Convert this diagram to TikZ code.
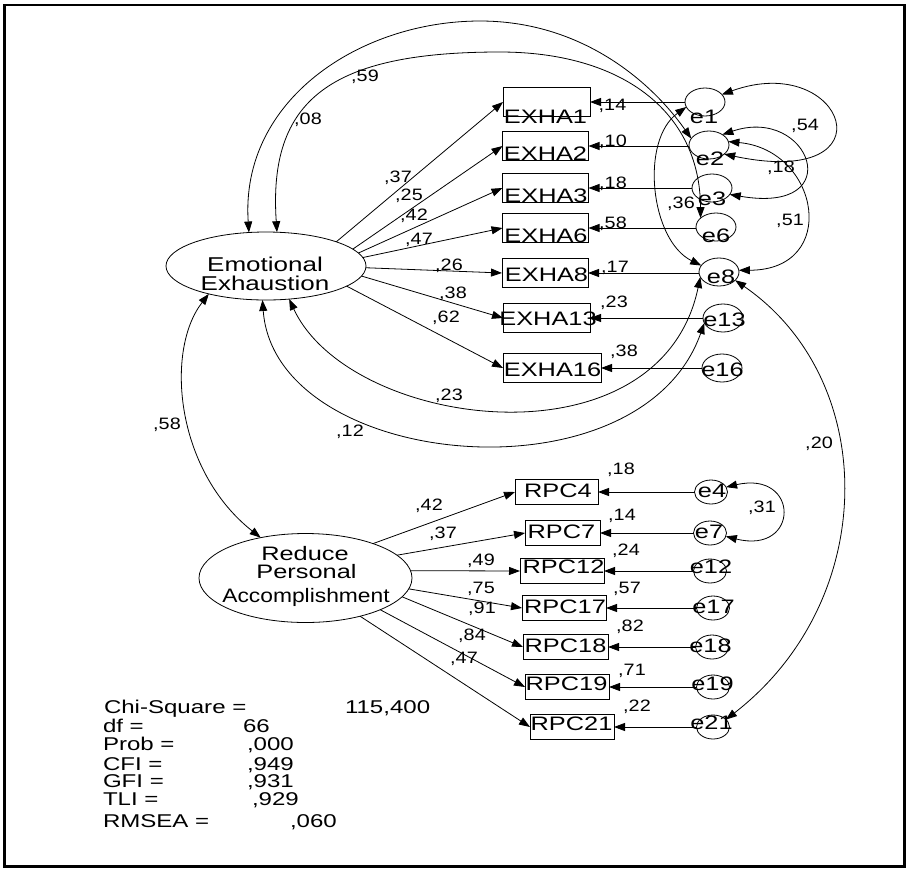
\documentclass[tikz,border=0pt]{standalone}
\usepackage{fontspec}
\setmainfont{Liberation Sans}
\newfontfamily\amosfont[FakeStretch=1.3]{Liberation Sans}
\newfontfamily\amosnarrowfont[FakeStretch=1.17]{Liberation Sans}
\newfontfamily\amoslabelfont[FakeStretch=1.2]{Liberation Sans}
\usetikzlibrary{arrows.meta,shapes.geometric}

\tikzset{
  every node/.style={inner sep=0pt, outer sep=0pt},
  obsbox/.style={draw, rectangle, line width=0.8pt, minimum height=29pt},
  rpcbox/.style={draw, rectangle, line width=0.8pt, minimum height=25pt},
  errbig/.style={draw, ellipse, line width=0.8pt, minimum width=40pt, minimum height=28pt},
  errsmall/.style={draw, ellipse, line width=0.8pt, minimum width=33pt, minimum height=24pt},
  latent/.style={draw, ellipse, line width=0.8pt},
  vartext/.style={anchor=base, font=\amosfont\fontsize{19.5}{20}\selectfont},
  lattext/.style={anchor=base, font=\amosfont\fontsize{20}{20}\selectfont},
  coef/.style={font=\amoslabelfont\fontsize{16.5}{16.5}\selectfont},
  fittext/.style={anchor=base west, font=\amosfont\fontsize{18.5}{19}\selectfont},
  >={Triangle[length=11pt,width=8pt]},
  regpath/.style={line width=0.8pt, ->},
  covpath/.style={line width=0.8pt, <->},
}

\begin{document}
\begin{tikzpicture}[x=1pt,y=-1pt]
\useasboundingbox (0,0) rectangle (908,871);
% outer frame
\draw[line width=2.4pt] (4.5,5) rectangle (904.5,866.5);

% ---------- latent factors ----------
\node[latent, minimum width=200pt, minimum height=68pt] (EE) at (266,266) {};
\node[lattext] (EEt1) at (265,271) {Emotional};
\node[lattext] (EEt2) at (265,290) {Exhaustion};

\node[latent, minimum width=213pt, minimum height=89pt] (RPA) at (305.5,578) {};
\node[vartext] (RPAt1) at (305,560) {Reduce};
\node[vartext] (RPAt2) at (306.5,578.5) {Personal};
\node[vartext, font=\amosnarrowfont\fontsize{19.5}{20}\selectfont] (RPAt3) at (306,602) {Accomplishment};

% ---------- exhaustion items ----------
\node[obsbox, minimum width=87pt] (X1)  at (546.5,102) {};
\node[obsbox, minimum width=86pt] (X2)  at (545.5,146) {};
\node[obsbox, minimum width=86pt] (X3)  at (545.5,188) {};
\node[obsbox, minimum width=86pt] (X6)  at (545.5,228) {};
\node[obsbox, minimum width=86pt] (X8)  at (545,273) {};
\node[obsbox, minimum width=87pt] (X13) at (546.5,318) {};
\node[obsbox, minimum width=98pt] (X16) at (552,368) {};
\node[vartext] (X1t)  at (545.5,123) {EXHA1};
\node[vartext] (X2t)  at (545.5,160) {EXHA2};
\node[vartext] (X3t)  at (546,202) {EXHA3};
\node[vartext] (X6t)  at (546,242) {EXHA6};
\node[vartext] (X8t)  at (546.5,281) {EXHA8};
\node[vartext] (X13t) at (548,325) {EXHA13};
\node[vartext] (X16t) at (552.5,376) {EXHA16};

% ---------- exhaustion errors ----------
\node[errbig] (e1)  at (705,102) {};
\node[errbig] (e2)  at (709,145) {};
\node[errbig] (e3)  at (712,188) {};
\node[errbig] (e6)  at (716,227) {};
\node[errbig] (e8)  at (719,272) {};
\node[errbig] (e13) at (723,318) {};
\node[errbig] (e16) at (722,368) {};
\node[vartext] (e1t)  at (704,123) {e1};
\node[vartext] (e2t)  at (710,165) {e2};
\node[vartext] (e3t)  at (712,205) {e3};
\node[vartext] (e6t)  at (716,242) {e6};
\node[vartext] (e8t)  at (721,283) {e8};
\node[vartext] (e13t) at (724.5,326) {e13};
\node[vartext] (e16t) at (722.5,376) {e16};

% ---------- accomplishment items ----------
\node[rpcbox, minimum width=83pt] (R4)  at (556.5,492) {};
\node[rpcbox, minimum width=75pt] (R7)  at (562.5,533) {};
\node[rpcbox, minimum width=84pt] (R12) at (562,571) {};
\node[rpcbox, minimum width=84pt] (R17) at (564,608) {};
\node[rpcbox, minimum width=85pt] (R18) at (565.5,647) {};
\node[rpcbox, minimum width=84pt] (R19) at (567,687) {};
\node[rpcbox, minimum width=84pt] (R21) at (572,727) {};
\node[vartext] (R4t)  at (558,497) {RPC4};
\node[vartext] (R7t)  at (561.5,538) {RPC7};
\node[vartext] (R12t) at (563.5,573) {RPC12};
\node[vartext] (R17t) at (565,613) {RPC17};
\node[vartext] (R18t) at (565.5,652) {RPC18};
\node[vartext] (R19t) at (566.5,690) {RPC19};
\node[vartext] (R21t) at (571.5,730) {RPC21};

% ---------- accomplishment errors ----------
\node[errsmall] (e4)  at (711,492) {};
\node[errsmall] (e7)  at (710,533) {};
\node[errsmall] (e12) at (710,571) {};
\node[errsmall] (e17) at (713,608) {};
\node[errsmall] (e18) at (712,647) {};
\node[errsmall] (e19) at (713,687) {};
\node[errsmall] (e21) at (713,727) {};
\node[vartext] (e4t)  at (712,497) {e4};
\node[vartext] (e7t)  at (709,538) {e7};
\node[vartext] (e12t) at (711,573) {e12};
\node[vartext] (e17t) at (713.5,613) {e17};
\node[vartext] (e18t) at (710.5,652) {e18};
\node[vartext] (e19t) at (712.5,690) {e19};
\node[vartext] (e21t) at (711.5,729) {e21};

% ---------- factor loadings ----------
\draw[regpath] (EE.19)  -- (X1.west);
\draw[regpath] (EE.11)  -- (X2.west);
\draw[regpath] (EE.8.7) -- (X3.west);
\draw[regpath] (EE.5)   -- (X6.west);
\draw[regpath] (EE.-1)  -- (X8.west);
\draw[regpath] (EE.-6.5) -- (X13.west);
\draw[regpath] (EE.-14) -- (X16.west);

\draw[regpath] (RPA.27)  -- (R4.west);
\draw[regpath] (RPA.14)  -- (R7.west);
\draw[regpath] (RPA.4)   -- (R12.west);
\draw[regpath] (RPA.-6)  -- (R17.west);
\draw[regpath] (RPA.-11) -- (R18.west);
\draw[regpath] (RPA.-23) -- (R19.west);
\draw[regpath] (RPA.-35) -- (R21.west);

% ---------- error paths ----------
\foreach \e/\x in {e1/X1,e2/X2,e3/X3,e6/X6,e8/X8,e13/X13,e16/X16,
                   e4/R4,e7/R7,e12/R12,e17/R17,e18/R18,e19/R19,e21/R21}
  \draw[regpath] (\e.west |- \x) -- (\x);

% ---------- covariances ----------
\draw[covpath] (EE.206) .. controls (165,350) and (175,470) .. (RPA.138);
\draw[covpath] (EE.117) .. controls (240,100) and (360,21) .. (480,21)
                        .. controls (580,21) and (650,80) .. (e2.160);
\draw[covpath] (EE.72) .. controls (268,100) and (330,52) .. (500,52)
                       .. controls (620,52) and (700,110) .. (e6.150);
\draw[covpath] (EE.305) .. controls (350,430) and (660,470) .. (e8.195);
\draw[covpath] (EE.264) .. controls (275,470) and (640,505) .. (e13.195);
\draw[covpath] (e1.195) .. controls (640,140) and (650,240) .. (e8.160);
\draw[covpath] (e1.24) .. controls (845,50) and (895,190) .. (e2.-31);
\draw[covpath] (e2.38) .. controls (810,105) and (850,215) .. (e3.-20);
\draw[covpath] (e2.10) .. controls (820,150) and (840,270) .. (e8.5);
\draw[covpath] (e8.-27) .. controls (880,380) and (880,600) .. (e21.30);
\draw[covpath] (e4.18) .. controls (800,470) and (800,555) .. (e7.-12);

% ---------- coefficient labels ----------
\node[coef] at (398,178) {,37};
\node[coef] at (409,196) {,25};
\node[coef] at (414,216) {,42};
\node[coef] at (419,240) {,47};
\node[coef] at (449,266) {,26};
\node[coef] at (453,294) {,38};
\node[coef] at (446,318) {,62};

\node[coef] at (429,506) {,42};
\node[coef] at (443,534) {,37};
\node[coef] at (481,561) {,49};
\node[coef] at (481,589) {,75};
\node[coef] at (482,609) {,91};
\node[coef] at (472,636) {,84};
\node[coef] at (464,659) {,47};

\node[coef] at (612.5,106) {,14};
\node[coef] at (613,142) {,10};
\node[coef] at (613,184) {,18};
\node[coef] at (613,224) {,58};
\node[coef] at (615,268) {,17};
\node[coef] at (614,303) {,23};
\node[coef] at (624,352) {,38};

\node[coef] at (621,470) {,18};
\node[coef] at (622,516) {,14};
\node[coef] at (626,551) {,24};
\node[coef] at (627,589) {,57};
\node[coef] at (630,627) {,82};
\node[coef] at (632,671) {,71};
\node[coef] at (637,707) {,22};

\node[coef] at (365,77)  {,59};
\node[coef] at (308,120) {,08};
\node[coef] at (805,126) {,54};
\node[coef] at (781,168) {,18};
\node[coef] at (790,221) {,51};
\node[coef] at (681,204) {,36};
\node[coef] at (449,396) {,23};
\node[coef] at (350,432) {,12};
\node[coef] at (167,425) {,58};
\node[coef] at (819,444) {,20};
\node[coef] at (762,508) {,31};

% ---------- fit statistics ----------
\node[fittext] (fit1) at (104,713) {Chi-Square =};
\node[fittext] (fit1v) at (345,713) {115,400};
\node[fittext] (fit2) at (103,732) {df =};
\node[fittext] (fit2v) at (243,732) {66};
\node[fittext] (fit3) at (103,750) {Prob =};
\node[fittext] (fit3v) at (247,750) {,000};
\node[fittext] (fit4) at (103,770) {CFI =};
\node[fittext] (fit4v) at (247,770) {,949};
\node[fittext] (fit5) at (103,787) {GFI =};
\node[fittext] (fit5v) at (247,787) {,931};
\node[fittext] (fit6) at (103,805) {TLI =};
\node[fittext] (fit6v) at (252,805) {,929};
\node[fittext] (fit7) at (103,827) {RMSEA =};
\node[fittext] (fit7v) at (290,827) {,060};
\end{tikzpicture}
\end{document}
